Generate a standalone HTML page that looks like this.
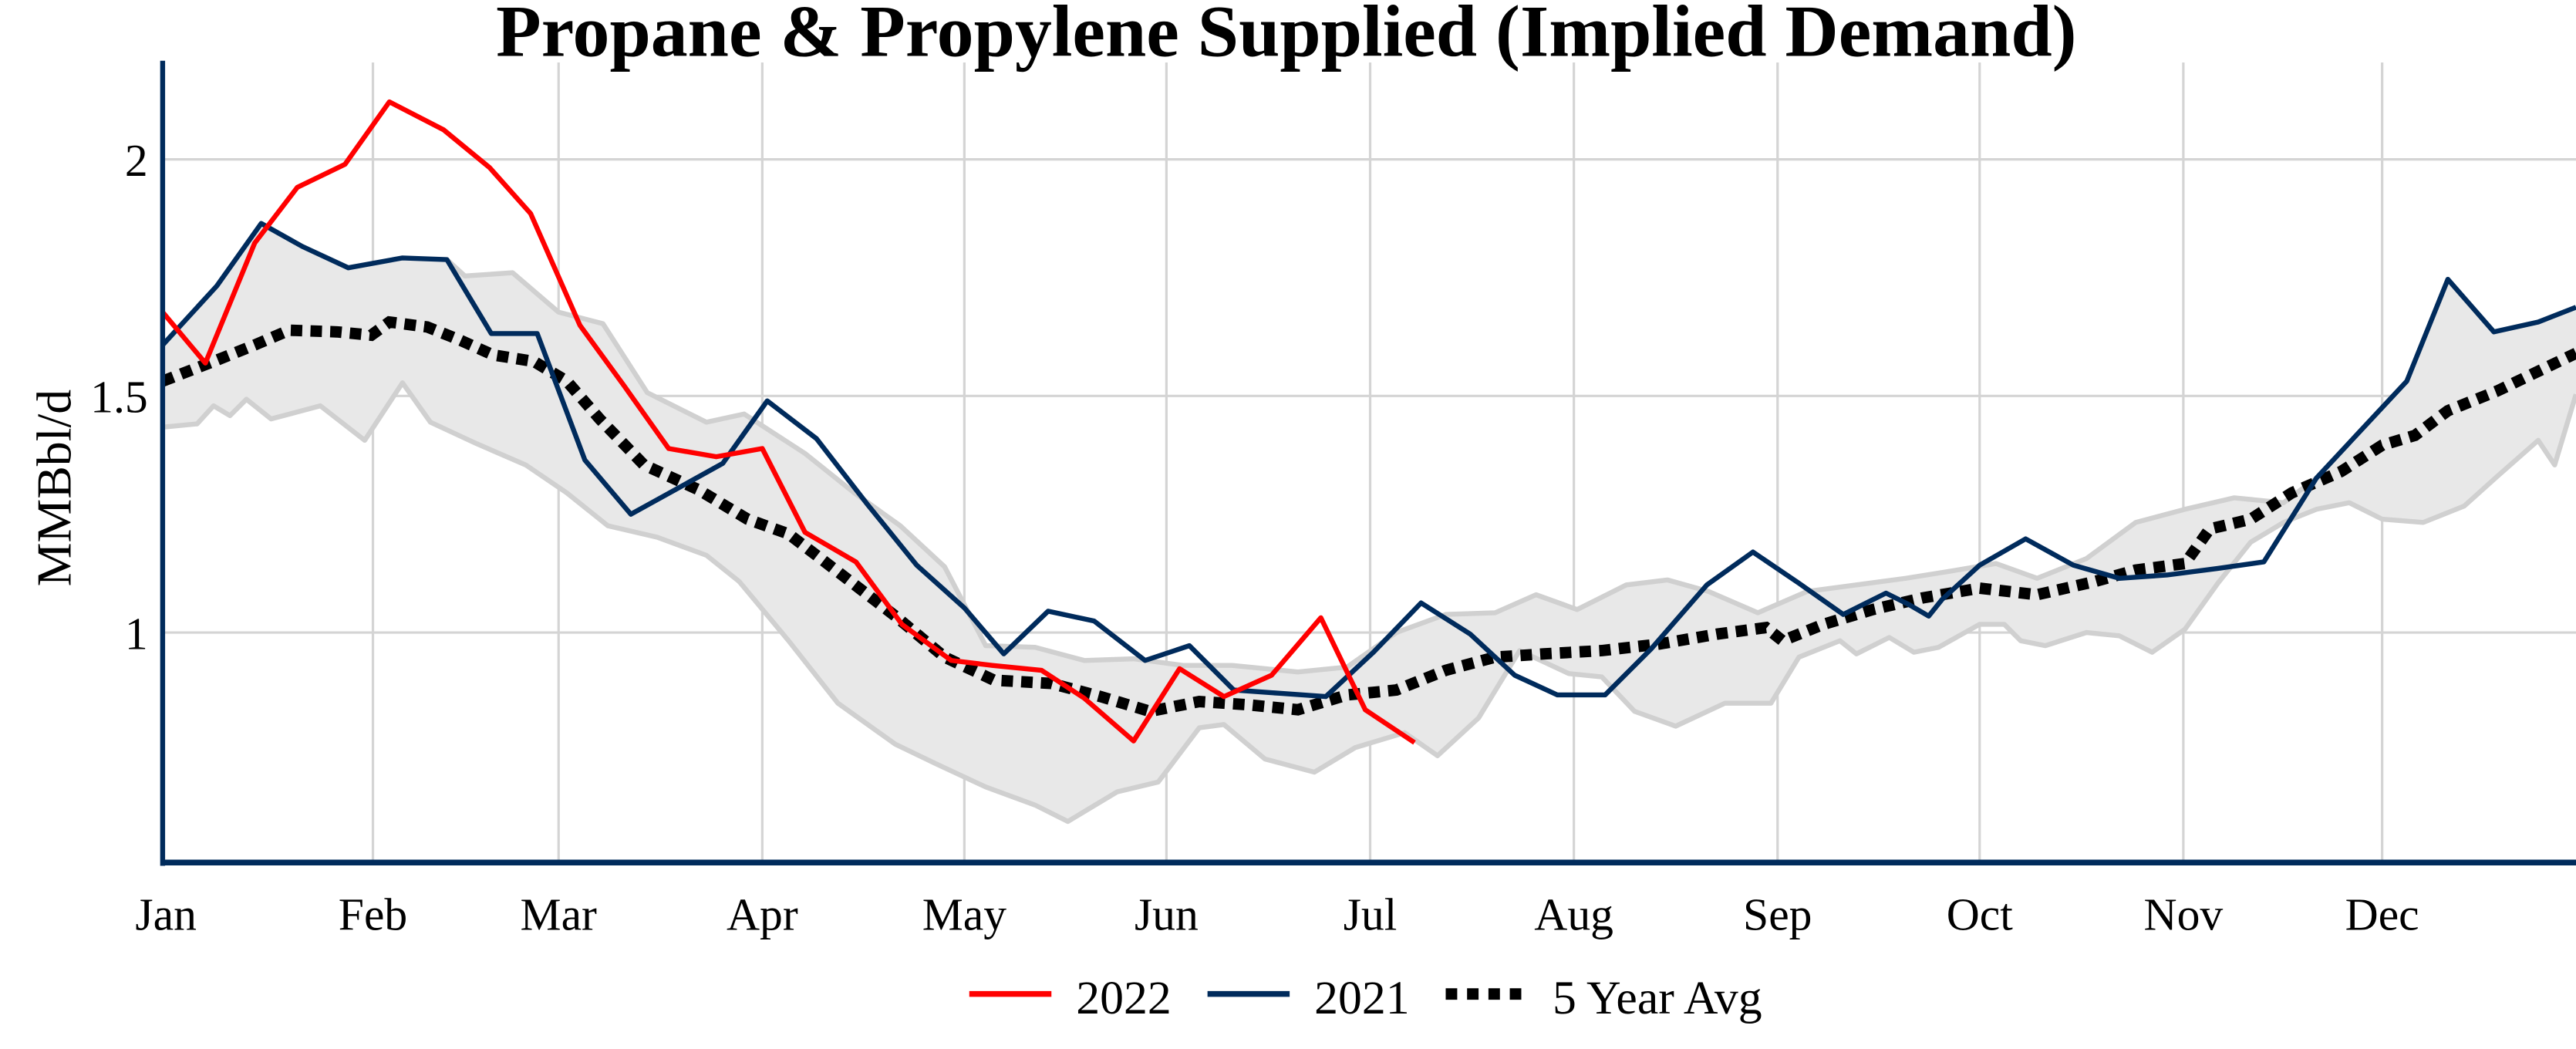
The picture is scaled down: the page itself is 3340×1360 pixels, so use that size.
<!DOCTYPE html>
<html><head><meta charset="utf-8"><style>
html,body{margin:0;padding:0;background:#fff;}
svg{display:block;}
text{font-family:"Liberation Serif",serif;fill:#000;}
</style></head><body>
<svg width="3340" height="1360" viewBox="0 0 1568 638.5" preserveAspectRatio="none" xmlns="http://www.w3.org/2000/svg">
<rect width="1568" height="638.5" fill="#fff"/>
<g stroke="#d4d4d4" stroke-width="1.5">
<line x1="99" y1="97" x2="1568" y2="97"/><line x1="99" y1="241" x2="1568" y2="241"/><line x1="99" y1="385" x2="1568" y2="385"/>
<line x1="227" y1="38" x2="227" y2="525"/><line x1="340" y1="38" x2="340" y2="525"/><line x1="464" y1="38" x2="464" y2="525"/>
<line x1="587" y1="38" x2="587" y2="525"/><line x1="710" y1="38" x2="710" y2="525"/><line x1="834" y1="38" x2="834" y2="525"/>
<line x1="958" y1="38" x2="958" y2="525"/><line x1="1082" y1="38" x2="1082" y2="525"/><line x1="1205" y1="38" x2="1205" y2="525"/>
<line x1="1329" y1="38" x2="1329" y2="525"/><line x1="1450" y1="38" x2="1450" y2="525"/>
</g>
<polygon fill="#e8e8e8" stroke="none" points="99,210 132,174 159,136 184,150 212,163 245,157 272,158 283,168 312,166 340,190 367,197 394,239 430,257 453,252 490,276 520,300 548,320 575,345 600,393 630,394 660,402 690,401 720,405 750,405 790,409 820,406 850,385 880,374 910,373 935,362 960,371 990,356 1015,353 1040,360 1070,373 1100,360 1130,356 1160,352 1185,348 1215,343 1240,352 1270,340 1300,318 1330,310 1360,303 1390,306 1410,291 1437,262 1465,232 1490,170 1518,202 1545,196 1568,187 1568,240 1555,283 1545,268 1520,290 1500,308 1475,318 1450,316 1430,306 1410,310 1390,318 1370,330 1350,355 1330,383 1310,397 1290,387 1270,385 1245,393 1230,390 1220,380 1205,380 1180,394 1165,397 1150,388 1130,398 1120,390 1095,400 1078,428 1050,428 1020,442 995,433 975,412 955,410 925,396 900,437 875,460 855,446 825,455 800,470 770,462 745,441 730,443 705,476 680,482 650,500 630,490 600,479 570,465 545,453 510,428 480,390 450,354 430,338 400,327 370,320 345,300 320,283 290,270 262,257 245,233 222,268 195,247 165,255 150,243 140,253 130,247 120,258 99,260"/>
<g fill="none" stroke="#d0d0d0" stroke-width="3" stroke-linejoin="round">
<polyline points="272,158 283,168 312,166 340,190 367,197 394,239 430,257 453,252 490,276 520,300 548,320 575,345 600,393 630,394 660,402 690,401 720,405 750,405 790,409 820,406 850,385 880,374 910,373 935,362 960,371 990,356 1015,353 1040,360 1070,373 1100,360 1130,356 1160,352 1185,348 1215,343 1240,352 1270,340 1300,318 1330,310 1360,303 1390,306 1410,291"/>
<polyline points="99,260 120,258 130,247 140,253 150,243 165,255 195,247 222,268 245,233 262,257 290,270 320,283 345,300 370,320 400,327 430,338 450,354 480,390 510,428 545,453 570,465 600,479 630,490 650,500 680,482 705,476 730,443 745,441 770,462 800,470 825,455 855,446 875,460 900,437 925,396 955,410 975,412 995,433 1020,442 1050,428 1078,428 1095,400 1120,390 1130,398 1150,388 1165,397 1180,394 1205,380 1220,380 1230,390 1245,393 1270,385 1290,387 1310,397 1330,383 1350,355 1370,330 1390,318 1410,310 1430,306 1450,316 1475,318 1500,308 1520,290 1545,268 1555,283 1568,240"/>
</g>
<polyline fill="none" stroke="#000" stroke-width="7" stroke-dasharray="7,5" points="99,232 130,220 155,210 176,201 205,202 226,204 237,196 260,199 280,207 300,216 325,220 345,232 365,255 392,283 425,298 455,316 480,325 510,348 545,375 575,400 605,414 640,416 670,424 700,433 730,427 760,429 790,432 820,423 850,420 880,408 910,400 940,398 975,396 1010,392 1045,386 1075,382 1085,390 1110,380 1140,371 1170,364 1205,358 1240,362 1275,354 1300,347 1330,343 1345,322 1370,316 1395,300 1425,287 1450,271 1470,265 1490,250 1520,238 1545,226 1568,215"/>
<polyline fill="none" stroke="#002b5c" stroke-width="3" stroke-linejoin="round" points="99,210 132,174 159,136 184,150 212,163 245,157 272,158 299,203 327,203 356,280 384,313 413,297 440,282 467,244 497,267 528,307 558,344 587,370 611,398 638,372 666,378 697,402 724,393 751,420 779,422 807,424 836,397 865,367 895,386 922,411 948,423 977,423 1005,395 1039,356 1067,336 1095,355 1122,374 1148,361 1162,368 1174,375 1182,365 1205,344 1233,328 1262,344 1290,352 1319,350 1350,346 1378,342 1410,291 1437,262 1465,232 1490,170 1518,202 1545,196 1568,187"/>
<polyline fill="none" stroke="#ff0000" stroke-width="3" stroke-linejoin="round" points="99,190 125,221 155,148 181,114 210,100 237,62 270,79 298,102 323,130 353,198 380,235 407,273 436,278 464,273 490,324 521,342 549,380 579,402 604,405 634,408 660,425 690,451 718,407 745,424 774,411 804,376 831,432 861,452"/>
<line x1="99" y1="37" x2="99" y2="527" stroke="#002b5c" stroke-width="3"/>
<line x1="98" y1="525" x2="1568" y2="525" stroke="#002b5c" stroke-width="3.5"/>
<text x="783" y="34" text-anchor="middle" font-size="45" font-weight="bold">Propane &amp; Propylene Supplied (Implied Demand)</text>
<g font-size="28" text-anchor="end">
<text x="90" y="107">2</text><text x="90" y="251">1.5</text><text x="90" y="395">1</text>
</g>
<text transform="translate(43,297) rotate(-90)" font-size="30" text-anchor="middle">MMBbl/d</text>
<g font-size="28" text-anchor="middle">
<text x="101" y="566">Jan</text><text x="227" y="566">Feb</text><text x="340" y="566">Mar</text><text x="464" y="566">Apr</text>
<text x="587" y="566">May</text><text x="710" y="566">Jun</text><text x="834" y="566">Jul</text><text x="958" y="566">Aug</text>
<text x="1082" y="566">Sep</text><text x="1205" y="566">Oct</text><text x="1329" y="566">Nov</text><text x="1450" y="566">Dec</text>
</g>
<line x1="590" y1="605" x2="640" y2="605" stroke="#ff0000" stroke-width="3.5"/>
<text x="655" y="617" font-size="29">2022</text>
<line x1="735" y1="605" x2="785" y2="605" stroke="#002b5c" stroke-width="3.5"/>
<text x="800" y="617" font-size="29">2021</text>
<line x1="880" y1="605" x2="930" y2="605" stroke="#000" stroke-width="7" stroke-dasharray="7,6"/>
<text x="945" y="617" font-size="29">5 Year Avg</text>
</svg>
</body></html>
